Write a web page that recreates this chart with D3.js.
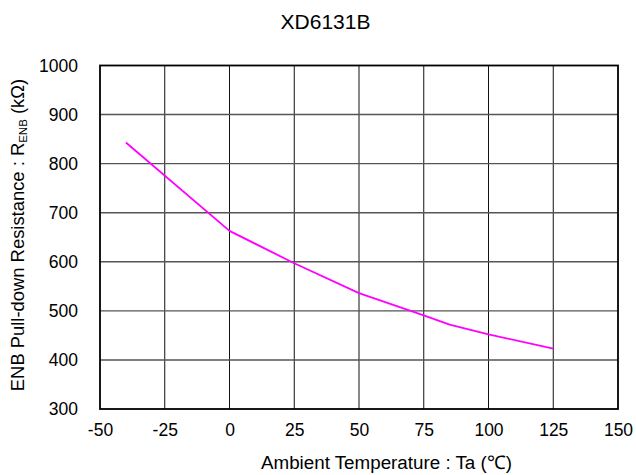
<!DOCTYPE html>
<html><head><meta charset="utf-8">
<script src="https://cdn.jsdelivr.net/npm/d3@7"></script>
<style>body{margin:0;background:#fff}svg{display:block;font-family:Arial,"Liberation Sans",sans-serif}</style>
</head><body>
<svg id="c" width="636" height="475"></svg>
<script>
const title = "XD6131B";
const temps = [-40, 0, 25, 50, 75, 85, 100, 125];
const resist = [843, 663, 597, 536, 491, 472, 452, 423];
const xTicks = [-50, -25, 0, 25, 50, 75, 100, 125, 150];
const yTicks = [300, 400, 500, 600, 700, 800, 900, 1000];

const FF = "Arial, 'Liberation Sans', sans-serif";
const svg = d3.select("#c");
const L = 100, R = 618, T = 65.5, B = 409;
const x = d3.scaleLinear().domain([-50, 150]).range([L, R]);
const y = d3.scaleLinear().domain([300, 1000]).range([B, T]);

// grid
svg.append("g").selectAll("line").data(xTicks.slice(1, -1)).join("line")
  .attr("x1", d => x(d)).attr("x2", d => x(d)).attr("y1", T).attr("y2", B)
  .attr("stroke", "#111").attr("stroke-width", 1);
svg.append("g").selectAll("line").data(yTicks.slice(1, -1)).join("line")
  .attr("x1", L).attr("x2", R).attr("y1", d => y(d)).attr("y2", d => y(d))
  .attr("stroke", "#555").attr("stroke-width", 1.4);

// line
const data = temps.map((t, i) => [t, resist[i]]);
svg.append("path").datum(data)
  .attr("d", d3.line().x(d => x(d[0])).y(d => y(d[1])))
  .attr("fill", "none").attr("stroke", "#ff00ff").attr("stroke-width", 1.8)
  .attr("stroke-linejoin", "round");

// frame
svg.append("rect").attr("x", L).attr("y", T).attr("width", R - L).attr("height", B - T)
  .attr("fill", "none").attr("stroke", "#000").attr("stroke-width", 1.8);

// axes labels
const xAxis = svg.append("g").attr("transform", `translate(0,${B})`)
  .call(d3.axisBottom(x).tickValues(xTicks).tickSize(0).tickPadding(15).tickFormat(d => String(d)));
xAxis.select(".domain").remove();
xAxis.selectAll("text").attr("font-size", 17.5).attr("fill", "#000").attr("font-family", FF);

const yAxis = svg.append("g").attr("transform", `translate(${L},0)`)
  .call(d3.axisLeft(y).tickValues(yTicks).tickSize(0).tickPadding(22).tickFormat(d => String(d)));
yAxis.select(".domain").remove();
yAxis.selectAll("text").attr("font-size", 17.5).attr("fill", "#000").attr("font-family", FF);

svg.append("text").attr("x", 325.5).attr("y", 29).attr("text-anchor", "middle")
  .attr("font-size", 21).attr("fill", "#000").text(title);

svg.append("text").attr("x", 386.5).attr("y", 469).attr("text-anchor", "middle")
  .attr("font-size", 18.8).attr("fill", "#000").text("Ambient Temperature : Ta (\u2103)");

const yl = svg.append("text").attr("transform", "translate(23.5,235) rotate(-90)")
  .attr("text-anchor", "middle").attr("font-size", 18.4).attr("fill", "#000");
yl.append("tspan").text("ENB Pull-down Resistance : R");
yl.append("tspan").attr("font-size", 11.5).attr("dy", 3).text("ENB");
yl.append("tspan").attr("dy", -3).text(" (k\u03A9)");
</script>
</body></html>
